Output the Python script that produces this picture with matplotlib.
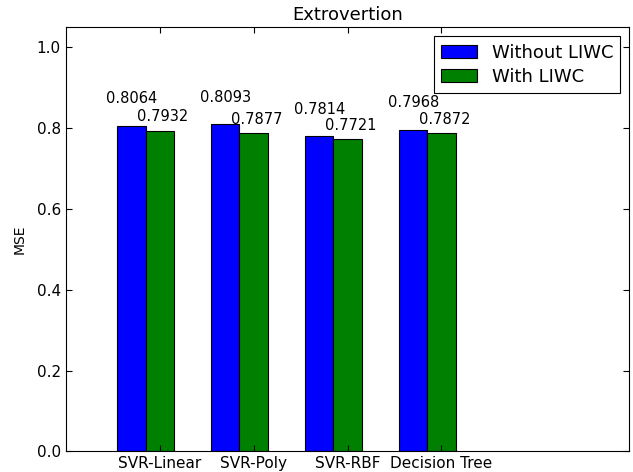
import numpy as np
import matplotlib
matplotlib.use("Agg")
import matplotlib.pyplot as plt

models = ["SVR-Linear", "SVR-Poly", "SVR-RBF", "Decision Tree"]
without_liwc = [0.8064, 0.8093, 0.7814, 0.7968]
with_liwc = [0.7932, 0.7877, 0.7721, 0.7872]

ind = np.arange(len(models))
w = 0.3

fig = plt.figure(figsize=(6.33, 4.72), dpi=100)
ax = fig.add_axes([0.1038, 0.0439, 0.8904, 0.8983])

b1 = ax.bar(ind, without_liwc, w, align="edge", color="#0000ff",
            edgecolor="black", linewidth=0.8, label="Without LIWC")
b2 = ax.bar(ind + w, with_liwc, w, align="edge", color="#008000",
            edgecolor="black", linewidth=0.8, label="With LIWC")

# value labels: blue ones a bit higher than green ones, like the original
for rect in b1:
    h = rect.get_height()
    ax.text(rect.get_x() + rect.get_width() / 2, 1.07 * h, "%.4f" % h,
            ha="center", va="baseline", fontsize=10.5)
for rect in b2:
    h = rect.get_height()
    ax.text(rect.get_x() + rect.get_width() / 2 + 0.036, 1.03 * h, "%.4f" % h,
            ha="center", va="baseline", fontsize=10.5)

ax.set_xlim(-0.55, 5.45)
ax.set_ylim(0, 1.05)
ax.set_xticks(ind + 1.5 * w)
ax.set_xticklabels(models, fontsize=11)
ax.set_yticks(np.arange(0, 1.01, 0.2))
ax.set_yticklabels(["%.1f" % v for v in np.arange(0, 1.01, 0.2)], fontsize=11)
ax.tick_params(direction="in", top=True, right=True, length=4, width=0.8)
ax.set_ylabel("MSE", fontsize=10, labelpad=7)
ax.set_title("Extrovertion", fontsize=13, pad=5)

leg = ax.legend(loc="upper right", fontsize=13, fancybox=False, framealpha=1,
                edgecolor="black", labelspacing=0.35)
leg.get_frame().set_linewidth(0.8)

fig.savefig("out.png", dpi=100)
